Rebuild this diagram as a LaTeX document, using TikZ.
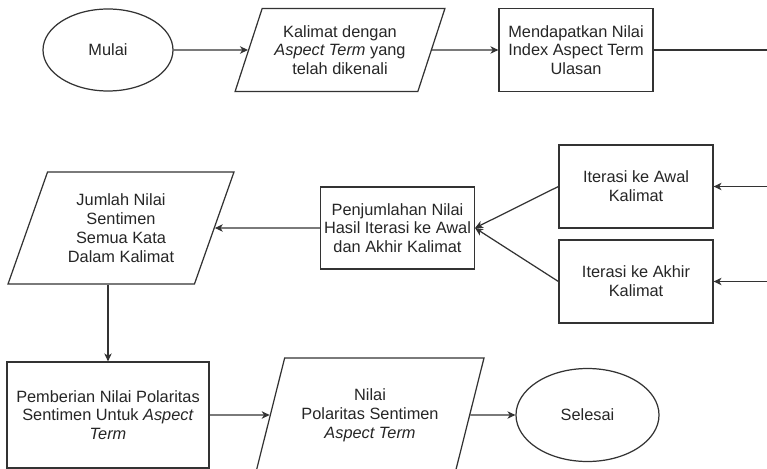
\documentclass[tikz,border=0pt]{standalone}
\usepackage{fontspec}
\setmainfont{Liberation Sans}
\usetikzlibrary{arrows.meta}
\usetikzlibrary{positioning,shapes.geometric}

\begin{document}
\begin{tikzpicture}[
	garis/.style={draw=black!80,line width=0.7pt},
	teks/.style={garis,fill=white,text=black!85,align=center,inner sep=2pt,
		font=\fontsize{9.3}{10.7}\selectfont},
	proses/.style={teks,rectangle,minimum width=3.08cm,minimum height=1.66cm},
	data/.style={teks,trapezium,trapezium left angle=68,trapezium right angle=112,
		trapezium stretches=true,minimum width=4.56cm,minimum height=2.26cm},
	terminal/.style={teks,ellipse,minimum width=2.6cm,minimum height=1.64cm},
	]
	\useasboundingbox (0,0) rectangle (15.34,-9.36);

	\begin{scope}
		\node[terminal] (mulai) at (2.16,-1.0) {Mulai};
		\node[data,trapezium left angle=67,trapezium right angle=113,
			minimum width=4.2cm,minimum height=1.66cm] (kalimat) at (6.8,-1.0)
			{Kalimat dengan\\\textit{Aspect Term} yang\\telah dikenali};
		\node[proses] (indeks) at (11.52,-1.0) {Mendapatkan Nilai\\Index Aspect Term\\Ulasan};
		\node[proses] (awal) at (12.72,-3.73) {Iterasi ke Awal\\Kalimat};
		\node[proses] (akhir) at (12.72,-5.63) {Iterasi ke Akhir\\Kalimat};
		\node[proses,minimum width=3.06cm,minimum height=1.64cm] (jumlahiter) at (7.95,-4.56)
			{Penjumlahan Nilai\\Hasil Iterasi ke Awal\\dan Akhir Kalimat};
		\node[data,minimum height=2.24cm] (jumlahnilai) at (2.42,-4.56)
			{Jumlah Nilai\\Sentimen\\Semua Kata\\Dalam Kalimat};
		\node[proses,minimum width=4.04cm,minimum height=2.12cm] (pemberian) at (2.16,-8.3)
			{Pemberian Nilai Polaritas\\Sentimen Untuk \textit{Aspect}\\\textit{Term}};
		\node[data,minimum height=2.28cm] (polaritas) at (7.4,-8.3)
			{Nilai\\Polaritas Sentimen\\\textit{Aspect Term}};
		\node[terminal,minimum width=2.86cm,minimum height=1.86cm] (selesai) at (11.75,-8.3) {Selesai};
		% ujung garis di tepi kanan
		\coordinate (kanan0) at (15.34,-1.0);
		\coordinate (kanan1) at (15.34,-3.73);
		\coordinate (kanan2) at (15.34,-5.63);
	\end{scope}

	\begin{scope}[>={Stealth[length=4.5pt,width=4.2pt,inset=1.3pt]},every edge/.style={garis}]
		\path[->] (mulai) edge (kalimat);
		\path[->] (kalimat) edge (indeks);
		\path (indeks) edge (kanan0);
		\path[->] (kanan1) edge (awal);
		\path[->] (kanan2) edge (akhir);
		\path[->] (awal.west) edge (jumlahiter.east);
		\path[->] (akhir.west) edge (jumlahiter.east);
		\path[->] (jumlahiter) edge (jumlahnilai);
		\path[->] (pemberian.north |- jumlahnilai.south) edge (pemberian.north);
		\path[->] (pemberian) edge (polaritas);
		\path[->] (polaritas) edge (selesai);
	\end{scope}
\end{tikzpicture}
\end{document}
